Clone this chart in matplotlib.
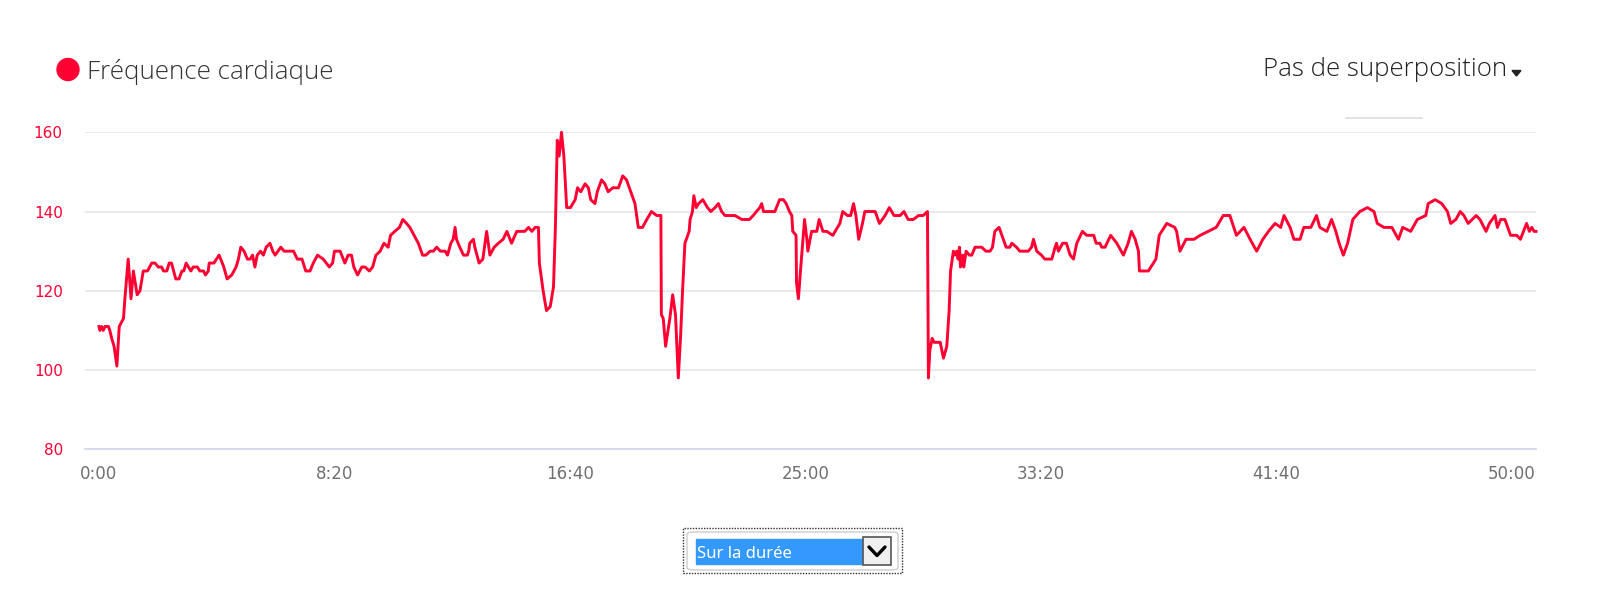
import matplotlib.pyplot as plt
from matplotlib.patches import Ellipse, Rectangle, FancyBboxPatch, Polygon
from matplotlib.lines import Line2D
from matplotlib.ticker import FuncFormatter

W, H = 1600, 603

# heart rate samples: elapsed seconds / bpm
seconds = [
    0, 2, 6, 9, 13, 20, 23, 27, 32, 38, 43, 52, 55, 62, 68, 73, 81, 87, 94, 103,
    112, 119, 126, 133, 137, 144, 149, 154, 163, 170, 176, 180, 185, 190, 195, 200, 209, 214, 222, 226,
    232, 234, 244, 255, 265, 272, 282, 291, 296, 301, 308, 315, 321, 326, 331, 336, 343, 349, 355, 363,
    369, 374, 380, 386, 393, 413, 421, 431, 439, 448, 455, 464, 476, 489, 496, 500, 508,
    512, 522, 529, 536, 541, 549, 558, 565, 574, 581, 588, 597, 605, 614, 619, 628, 638, 645, 653, 660,
    669, 678, 687, 694, 703, 710, 717, 725, 735, 740, 747, 752, 756, 759, 766, 774, 782, 785, 787, 795,
    798, 807, 815, 823, 830, 839, 848, 858, 866, 876, 887, 897, 904, 912, 919, 926, 933, 935, 943, 950,
    958, 965, 969, 973, 977, 982, 987, 993, 1001, 1011, 1016, 1023, 1032, 1039, 1044, 1053, 1058, 1067, 1074, 1081,
    1091, 1103, 1112, 1120, 1129, 1138, 1145,
    1154, 1163, 1173, 1184, 1193, 1194, 1198, 1203, 1212, 1218, 1224, 1230, 1235, 1239, 1244, 1253, 1255, 1260, 1263, 1268,
    1273, 1282, 1292, 1299, 1308, 1315, 1322, 1329, 1343, 1350, 1365, 1381, 1389, 1396, 1403, 1407, 1411, 1421, 1435, 1445,
    1453, 1459, 1466, 1471, 1473, 1480, 1481, 1485, 1490, 1494, 1498, 1503, 1505, 1513, 1524, 1529, 1537, 1545, 1558, 1573,
    1579, 1589, 1596, 1602, 1607, 1613, 1621, 1626, 1638, 1648, 1657, 1669, 1678, 1688,
    1701, 1709, 1718, 1729, 1740, 1750, 1759, 1761, 1764, 1769, 1773, 1786, 1793, 1800, 1805, 1808, 1814, 1817, 1821, 1824,
    1827, 1829, 1834, 1836, 1841, 1848, 1853, 1860, 1874, 1883, 1892, 1897, 1902, 1911, 1920, 1926, 1934, 1938, 1948, 1955,
    1973, 1980, 1984, 1991, 2001, 2008, 2023, 2030, 2033, 2037, 2046, 2054, 2062, 2069, 2076, 2088, 2097, 2107, 2112, 2117,
    2125, 2129, 2136, 2148, 2161, 2175, 2185, 2192, 2200, 2207, 2209, 2217, 2228, 2244, 2251, 2267, 2284, 2288,
    2295, 2308, 2325, 2338, 2355, 2372, 2387, 2401, 2415, 2431, 2444, 2458, 2471, 2483, 2497, 2509, 2516, 2529, 2537, 2550,
    2558, 2573, 2585, 2592, 2607, 2617, 2626, 2633, 2642, 2651, 2662, 2677, 2693, 2707, 2714, 2728, 2745, 2759, 2768, 2785,
    2799, 2817, 2822, 2837, 2851, 2863, 2870, 2881, 2890, 2898, 2907, 2924, 2932, 2945, 2952, 2964, 2969, 2976, 2985, 2997,
    3010, 3018, 3031, 3037, 3042, 3047, 3051,
]
bpm = [
    111, 110, 111, 110, 111, 111, 110, 108, 106, 101, 111, 113, 118, 128, 118, 125, 119, 120, 125, 125,
    127, 127, 126, 126, 125, 125, 127, 127, 123, 123, 125, 125, 127, 126, 125, 126, 126, 125, 125, 124,
    125, 127, 127, 129, 126, 123, 124, 126, 128, 131, 130, 128, 128, 129, 126, 129, 130, 129, 131, 132,
    130, 129, 130, 131, 130, 130, 128, 128, 125, 125, 127, 129, 128, 126, 127, 130, 130,
    130, 127, 129, 129, 126, 124, 126, 126, 125, 126, 129, 130, 132, 131, 134, 135, 136, 138, 137, 136,
    134, 132, 129, 129, 130, 130, 131, 130, 130, 129, 132, 133, 136, 133, 131, 129, 129, 130, 132, 133,
    131, 127, 128, 135, 129, 131, 132, 133, 135, 132, 135, 135, 135, 136, 135, 136, 136, 127, 120, 115,
    116, 121, 136, 158, 154, 160, 154, 141, 141, 143, 146, 145, 147, 146, 143, 142, 145, 148, 147, 145,
    146, 146, 149, 148, 145, 142, 136,
    136, 138, 140, 139, 139, 114, 113, 106, 113, 119, 114, 98, 109, 120, 132, 135, 138, 140, 144, 141,
    142, 143, 141, 140, 141, 142, 140, 139, 139, 139, 138, 138, 139, 140, 141, 142, 140, 140, 140, 143,
    143, 142, 140, 139, 135, 134, 122, 118, 126, 132, 138, 133, 130, 135, 135, 138, 135, 135, 134, 137,
    140, 139, 139, 142, 139, 133, 137, 140, 140, 140, 137, 139, 141, 139,
    139, 140, 138, 138, 139, 139, 140, 98, 105, 108, 107, 107, 103, 106, 115, 125, 130, 129, 130, 128,
    131, 126, 129, 126, 130, 129, 129, 131, 131, 130, 130, 131, 135, 136, 133, 131, 131, 132, 131, 130,
    130, 131, 133, 130, 129, 128, 128, 131, 132, 130, 132, 132, 129, 128, 132, 135, 134, 134, 134, 132,
    132, 131, 131, 134, 132, 129, 132, 135, 133, 130, 125, 125, 125, 128, 134, 137, 136, 135,
    130, 133, 133, 134, 135, 136, 139, 139, 134, 136, 133, 130, 133, 135, 137, 136, 139, 136, 133, 133,
    136, 136, 139, 136, 135, 138, 135, 132, 129, 132, 138, 140, 141, 140, 137, 136, 136, 133, 136, 135,
    138, 139, 142, 143, 142, 140, 137, 138, 140, 139, 137, 139, 138, 135, 137, 139, 136, 138, 138, 134,
    134, 133, 137, 135, 136, 135, 135,
]

x_ticks = [0, 500, 1000, 1500, 2000, 2500, 3000]
y_ticks = [80, 100, 120, 140, 160]

RED = '#ff0033'


def fx(x):
    return x / W


def fy(y):
    return 1 - y / H


def mmss(t, pos=None):
    t = int(round(t))
    return f"{t // 60}:{t % 60:02d}"


fig = plt.figure(figsize=(W / 100, H / 100), dpi=100)
fig.patch.set_facecolor('white')

ax_left, ax_right, ax_top, ax_bot = 85, 1536, 132.3, 449.3
ax = fig.add_axes([fx(ax_left), fy(ax_bot), (ax_right - ax_left) / W, (ax_bot - ax_top) / H])

ax.plot(seconds, bpm, color=RED, lw=2.1, solid_joinstyle='round', clip_on=False, zorder=3)

ax.set_xlim(-29.7, 3051)
ax.set_ylim(80, 160)
ax.set_xticks(x_ticks)
ax.set_yticks(y_ticks)
ax.xaxis.set_major_formatter(FuncFormatter(mmss))
ax.grid(axis='y', color='#e6e6e6', lw=1.2, zorder=0)
ax.set_axisbelow(True)
for s in ['top', 'left', 'right']:
    ax.spines[s].set_visible(False)
ax.spines['bottom'].set_color('#ccd6eb')
ax.spines['bottom'].set_linewidth(1.2)
ax.tick_params(axis='x', length=0, pad=11, labelsize=12, labelcolor='#707070')
ax.tick_params(axis='y', length=0, pad=16, labelsize=11, labelcolor=RED)

# header
fig.add_artist(Ellipse((fx(68), fy(69.5)), 22 / W, 22 / H, color=RED, transform=fig.transFigure))
fig.text(fx(87), fy(79), "Fréquence cardiaque", fontsize=18.7, va='baseline',
         color='#333333', family=['Open Sans', 'DejaVu Sans'], weight='light')
fig.text(fx(1507), fy(76), "Pas de superposition", fontsize=18.6, va='baseline', ha='right',
         color='#222222', family=['Open Sans', 'DejaVu Sans'], weight='light')
fig.add_artist(Polygon([(fx(1512), fy(70.5)), (fx(1521), fy(70.5)), (fx(1516.5), fy(76)), ],
                       closed=True, color='#222222', transform=fig.transFigure))
fig.add_artist(Line2D([fx(1346), fx(1422)], [fy(118), fy(118)], color='#dddddd', lw=1.2,
                      transform=fig.transFigure))

# select widget below the chart
fig.add_artist(Rectangle((fx(683), fy(573)), 219 / W, 45 / H, fill=False, ec='#333333',
                         lw=1, ls=(0, (1, 1)), transform=fig.transFigure))
fig.add_artist(FancyBboxPatch((fx(687), fy(570)), 211 / W, 38 / H,
                              boxstyle='round,pad=0,rounding_size=0.004', fc='white', ec='#cccccc',
                              lw=1, transform=fig.transFigure))
fig.add_artist(Rectangle((fx(696), fy(564)), 166 / W, 25 / H, color='#3399ff',
                         transform=fig.transFigure))
fig.text(fx(697), fy(558), "Sur la durée", fontsize=12, va='baseline', color='white',
         family=['Noto Sans', 'DejaVu Sans'])
fig.add_artist(Rectangle((fx(863), fy(565)), 28 / W, 28 / H, fc='#f0f0f0', ec='#555555',
                         lw=1.2, transform=fig.transFigure))
fig.add_artist(Line2D([fx(869), fx(877), fx(885)], [fy(547), fy(555.5), fy(547)], color='black',
                      lw=2.4, solid_capstyle='round', transform=fig.transFigure))

fig.savefig('out.png', dpi=100, facecolor='white')
